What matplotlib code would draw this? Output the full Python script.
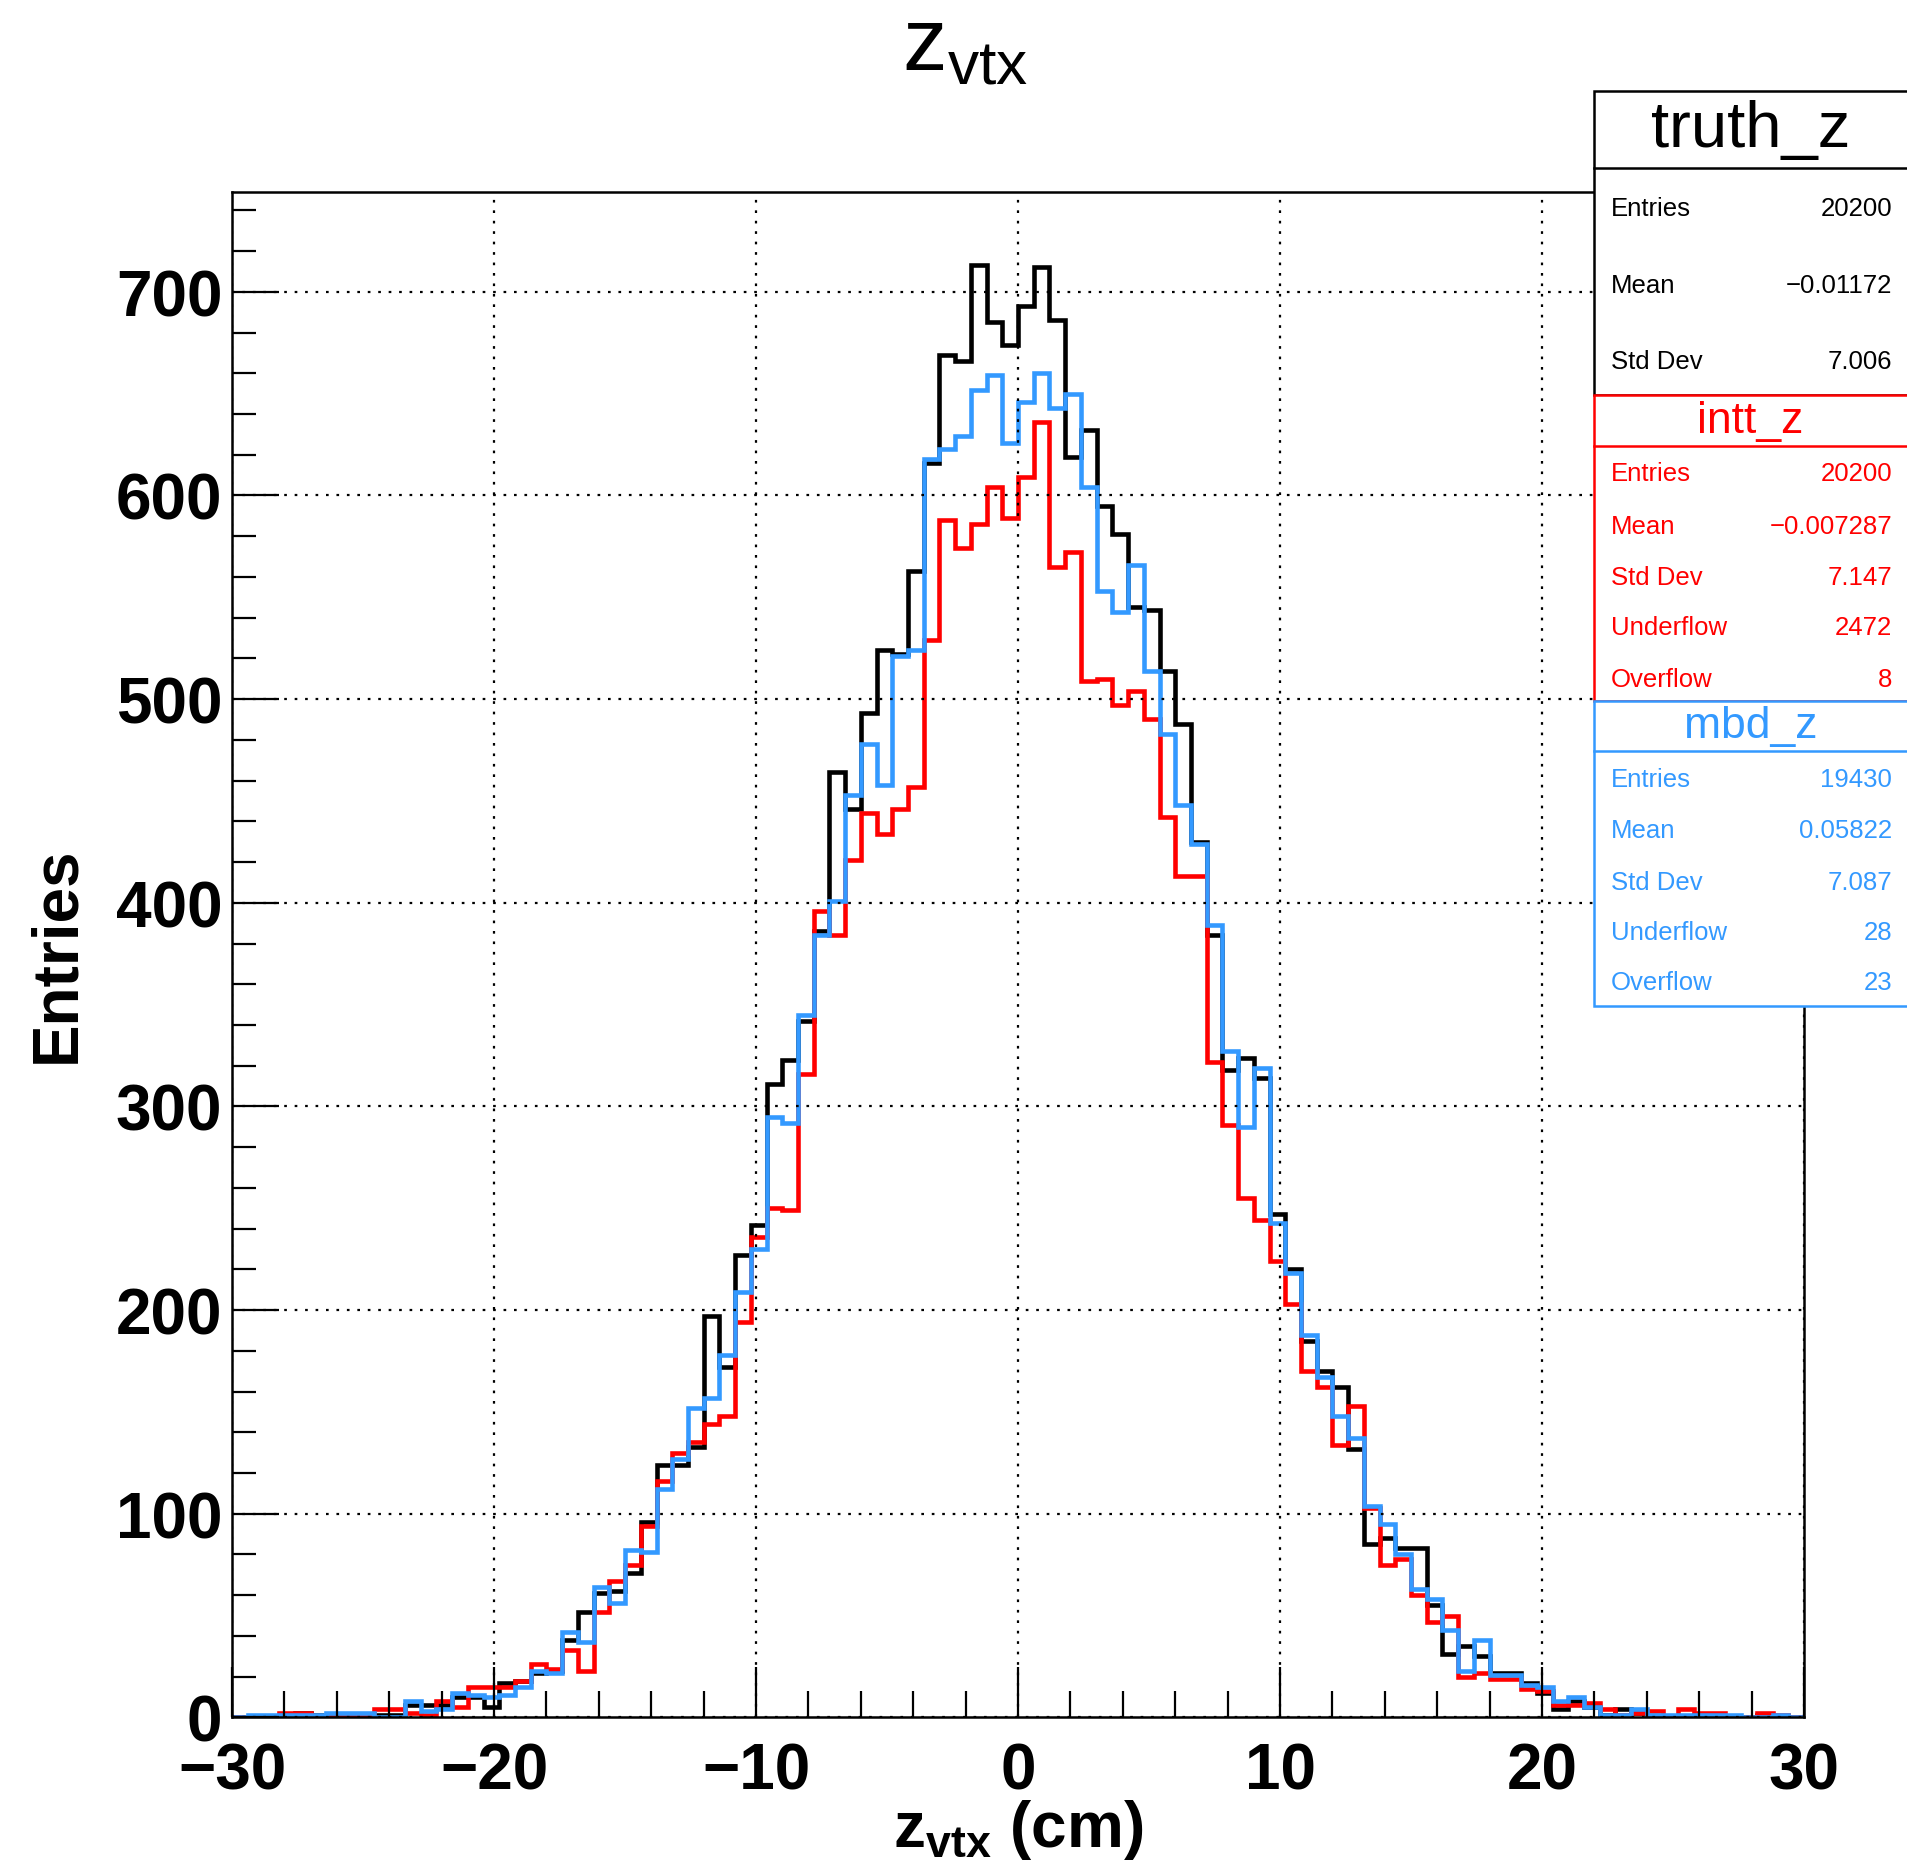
import numpy as np
import matplotlib
matplotlib.use("Agg")
import matplotlib.pyplot as plt
from matplotlib.patches import Rectangle
from matplotlib.ticker import MultipleLocator

plt.rcParams["font.family"] = ["Liberation Sans", "DejaVu Sans"]
plt.rcParams["mathtext.fontset"] = "custom"
plt.rcParams["mathtext.rm"] = "Liberation Sans"
plt.rcParams["mathtext.it"] = "Liberation Sans"
plt.rcParams["mathtext.bf"] = "Liberation Sans:bold"

# 100 bins, 0.6 cm wide, -30 .. 30 cm
bin_edges = np.linspace(-30, 30, 101)

truth_z = [0, 0, 0, 0, 2, 1, 0, 0, 1, 1,
           1, 6, 6, 6, 10, 10, 5, 17, 18, 22,
           23, 38, 52, 61, 62, 71, 96, 124, 124, 133,
           197, 172, 227, 242, 311, 323, 342, 386, 464, 446,
           493, 524, 522, 563, 616, 669, 666, 713, 685, 674,
           693, 712, 686, 619, 632, 595, 581, 545, 544, 514,
           488, 430, 384, 318, 324, 314, 247, 220, 185, 170,
           162, 132, 85, 88, 83, 83, 55, 31, 35, 30,
           22, 22, 17, 12, 4, 8, 5, 1, 4, 2,
           0, 0, 0, 1, 0, 0, 0, 1, 0, 0]

intt_z = [0, 0, 0, 2, 2, 0, 0, 0, 1, 4,
          4, 2, 1, 8, 5, 15, 15, 15, 18, 26,
          24, 33, 23, 52, 67, 75, 94, 116, 130, 135,
          144, 148, 194, 236, 250, 249, 316, 396, 384, 421,
          444, 434, 446, 457, 529, 588, 574, 586, 604, 589,
          609, 636, 565, 572, 509, 510, 497, 504, 490, 442,
          413, 413, 322, 291, 255, 244, 224, 203, 170, 162,
          134, 153, 103, 75, 78, 60, 47, 50, 20, 22,
          19, 19, 14, 13, 6, 6, 7, 4, 1, 2,
          3, 0, 4, 2, 2, 0, 0, 2, 1, 0]

mbd_z = [0, 1, 1, 1, 1, 1, 2, 2, 2, 0,
         0, 8, 3, 4, 12, 11, 10, 11, 15, 23,
         22, 42, 37, 64, 56, 82, 81, 112, 127, 152,
         157, 178, 209, 230, 295, 292, 345, 384, 401, 453,
         478, 458, 521, 524, 618, 623, 629, 652, 659, 626,
         646, 660, 643, 650, 604, 553, 543, 566, 514, 483,
         448, 429, 389, 327, 290, 319, 243, 218, 188, 167,
         148, 137, 104, 95, 80, 63, 58, 43, 23, 38,
         21, 21, 16, 15, 8, 10, 5, 1, 1, 4,
         1, 1, 1, 1, 1, 1, 0, 0, 1, 0]

truth_stats = [("Entries", "20200"), ("Mean", "\u22120.01172"), ("Std Dev", "7.006")]
intt_stats = [("Entries", "20200"), ("Mean", "\u22120.007287"), ("Std Dev", "7.147"),
              ("Underflow", "2472"), ("Overflow", "8")]
mbd_stats = [("Entries", "19430"), ("Mean", "0.05822"), ("Std Dev", "7.087"),
             ("Underflow", "28"), ("Overflow", "23")]

black = "black"
red = "#ff0000"
blue = "#3399ff"

fig = plt.figure(figsize=(19.07, 18.65), dpi=100)
ax = fig.add_axes([0.1217, 0.0786, 0.8243, 0.8179])

ax.stairs(truth_z, bin_edges, color=black, lw=3.3, baseline=0)
ax.stairs(intt_z, bin_edges, color=red, lw=3.3, baseline=0)
ax.stairs(mbd_z, bin_edges, color=blue, lw=3.3, baseline=0)

ax.set_xlim(-30, 30)
ax.set_ylim(0, 749)
ax.xaxis.set_major_locator(MultipleLocator(10))
ax.xaxis.set_minor_locator(MultipleLocator(2))
ax.yaxis.set_major_locator(MultipleLocator(100))
ax.yaxis.set_minor_locator(MultipleLocator(20))
ax.grid(True, which="major", color="black", linestyle=(0, (1.2, 3.5)), lw=1.6)
ax.tick_params(axis="both", which="both", direction="in", top=False, right=False, width=1.6)
ax.tick_params(axis="x", which="major", length=36, pad=17, labelsize=46)
ax.tick_params(axis="x", which="minor", length=19)
ax.tick_params(axis="y", which="major", length=34, pad=7, labelsize=46)
ax.tick_params(axis="y", which="minor", length=17)
for lab in ax.get_xticklabels() + ax.get_yticklabels():
    lab.set_fontweight("bold")
for sp in ax.spines.values():
    sp.set_linewidth(1.8)

fig.text(0.506, 0.9625, r"$\mathregular{z_{vtx}}$", fontsize=64, ha="center", va="baseline")
fig.text(0.534, 0.0097, r"$\mathbf{z_{vtx}}$ (cm)", fontsize=46, fontweight="bold",
         ha="center", va="baseline")
fig.text(0.030, 0.488, "Entries", fontsize=46, fontweight="bold", rotation=90,
         ha="center", va="center")


def stats_box(top, sep, bottom, color, name, title_size, rows, row_ys):
    x0 = 0.8359
    fig.patches.append(Rectangle((x0, bottom), 0.3, top - bottom, transform=fig.transFigure,
                                 facecolor="white", edgecolor=color, lw=1.8, zorder=5))
    fig.add_artist(plt.Line2D([x0, 1.0], [sep, sep], color=color, lw=1.8,
                              transform=fig.transFigure, zorder=6))
    fig.text(0.918, (top + sep) / 2, name, color=color, fontsize=title_size,
             ha="center", va="center", zorder=7)
    for (label, value), y in zip(rows, row_ys):
        fig.text(0.8448, y, label, color=color, fontsize=18.5, ha="left", va="center", zorder=7)
        fig.text(0.9921, y, value, color=color, fontsize=18.5, ha="right", va="center", zorder=7)


stats_box(0.9507, 0.9094, 0.7877, black, "truth_z", 47, truth_stats,
          [0.8879, 0.8466, 0.8059])
stats_box(0.7877, 0.7601, 0.6236, red, "intt_z", 32, intt_stats,
          [0.7458, 0.7174, 0.6901, 0.6633, 0.6354])
stats_box(0.6236, 0.5970, 0.4600, blue, "mbd_z", 32, mbd_stats,
          [0.5818, 0.5544, 0.5265, 0.4997, 0.4729])

fig.savefig("out.png", dpi=100)
